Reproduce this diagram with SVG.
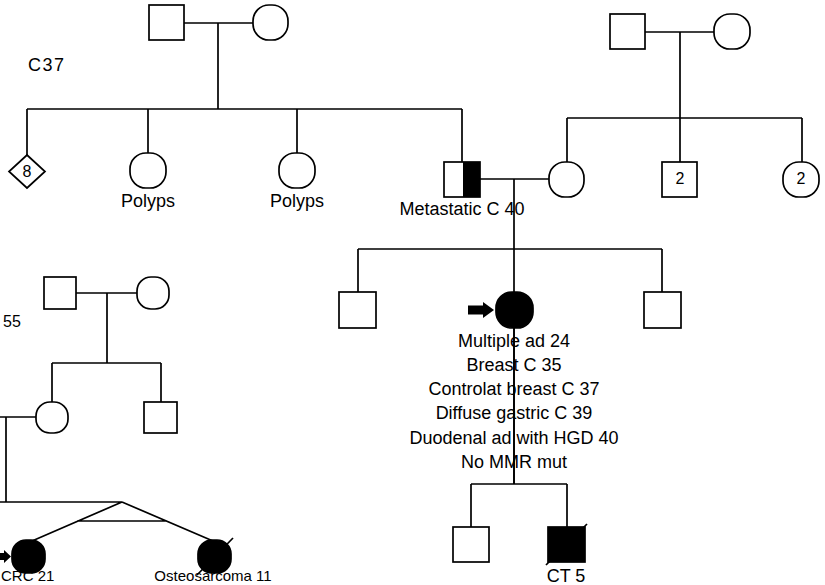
<svg xmlns="http://www.w3.org/2000/svg" width="825" height="585" viewBox="0 0 825 585">
<style>
.ln{stroke:#000;stroke-width:1.7;fill:none}
.m{fill:#fff;stroke:#000;stroke-width:1.7}
.f{fill:#fff;stroke:#000;stroke-width:1.7}
.blk{fill:#000;stroke:#000;stroke-width:1.7}
text{font-family:"Liberation Sans",Arial,sans-serif;fill:#000}
.t18{font-size:18px}
.t16{font-size:16px}
.t15{font-size:15px}
</style>
<rect width="825" height="585" fill="#fff"/>
<g id="connectors">
<path class="ln" d="M184 23H253M218 23V109M27 109H462M27 109V155M148 109V153M297 109V153M462 109V162"/>
<path class="ln" d="M645 32H714M680 32V118M567 118H802M567 118V162M680 118V162M802 118V162"/>
<path class="ln" d="M480 179H549M514 179V484M358 249H662M358 249V292M662 249V292"/>
<path class="ln" d="M471 484H567M471 484V527M567 484V527"/>
<path class="ln" d="M76 293H137M107 293V363M52 363H161M52 363V402M161 363V402"/>
<path class="ln" d="M0 417H36M6 417V502M0 502H122L32 541M122 502L213 541M77 521H167"/>
</g>
<g id="gp1-father"><rect class="m" x="149" y="5" width="35" height="35"/></g>
<g id="gp1-mother"><rect class="f" x="253" y="5" width="35" height="35" rx="16"/></g>
<text class="t18" x="28" y="71" letter-spacing="1.5">C37</text>
<g id="sib-8"><polygon class="m" points="27,155 45,171.5 27,188 9,171.5"/><text class="t16" x="27" y="177" text-anchor="middle">8</text></g>
<g id="polyps1"><rect class="f" x="130" y="153" width="36" height="35" rx="16"/><text class="t18" x="148" y="207" text-anchor="middle">Polyps</text></g>
<g id="polyps2"><rect class="f" x="279" y="153" width="36" height="35" rx="16"/><text class="t18" x="297" y="207" text-anchor="middle">Polyps</text></g>
<g id="father"><rect x="444" y="162" width="36" height="35" fill="#fff"/><rect x="463" y="162" width="17" height="35" fill="#000"/><rect class="ln" x="444" y="162" width="36" height="35"/><text class="t18" x="462" y="215" text-anchor="middle">Metastatic C 40</text></g>
<g id="mother"><rect class="f" x="549" y="162" width="35" height="35" rx="16"/></g>
<g id="gp2-father"><rect class="m" x="610" y="14" width="35" height="35"/></g>
<g id="gp2-mother"><rect class="f" x="714" y="14" width="36" height="35" rx="16"/></g>
<g id="brothers2"><rect class="m" x="662" y="162" width="35" height="35"/><text class="t16" x="680" y="184" text-anchor="middle">2</text></g>
<g id="sisters2"><rect class="f" x="783" y="162" width="36" height="35" rx="16"/><text class="t16" x="801" y="184" text-anchor="middle">2</text></g>
<g id="brother-l"><rect class="m" x="339" y="292" width="37" height="36"/></g>
<g id="brother-r"><rect class="m" x="644" y="292" width="37" height="36"/></g>
<g id="proband">
<rect class="blk" x="496" y="292" width="37" height="36" rx="16"/>
<polygon points="468,305.5 483,305.5 483,302 494,310 483,318 483,314.5 468,314.5" fill="#000"/>
<line class="ln" x1="514" y1="292" x2="514" y2="484"/>
<g class="t18" text-anchor="middle">
<text x="514" y="347">Multiple ad 24</text>
<text x="514" y="371">Breast C 35</text>
<text x="514" y="395">Controlat breast C 37</text>
<text x="514" y="419">Diffuse gastric C 39</text>
<text x="514" y="444">Duodenal ad with HGD 40</text>
<text x="514" y="468">No MMR mut</text>
</g>
</g>
<g id="son1"><rect class="m" x="453" y="527" width="36" height="35"/></g>
<g id="son2"><rect class="blk" x="548" y="527" width="37" height="35"/><line class="ln" x1="546" y1="565" x2="587" y2="524"/><text class="t18" x="566" y="582" text-anchor="middle">CT 5</text></g>
<g id="lgp-father"><rect class="m" x="44" y="277" width="32" height="32"/></g>
<g id="lgp-mother"><rect class="f" x="137" y="277" width="32" height="32" rx="14"/></g>
<text class="t16" x="3" y="327">55</text>
<g id="l-mother"><rect class="f" x="36" y="402" width="32" height="31" rx="14"/></g>
<g id="l-uncle"><rect class="m" x="144" y="402" width="33" height="31"/></g>
<g id="twin1"><rect class="blk" x="12" y="540" width="33" height="33" rx="14"/><polygon points="0,553 4,553 4,550 11,556.5 4,563 4,560 0,560" fill="#000"/><text class="t15" x="1" y="581">CRC 21</text></g>
<g id="twin2"><rect class="blk" x="198" y="540" width="33" height="33" rx="14"/><line class="ln" x1="197" y1="575" x2="233" y2="538"/><text class="t15" x="213" y="581" text-anchor="middle">Osteosarcoma 11</text></g>
</svg>
